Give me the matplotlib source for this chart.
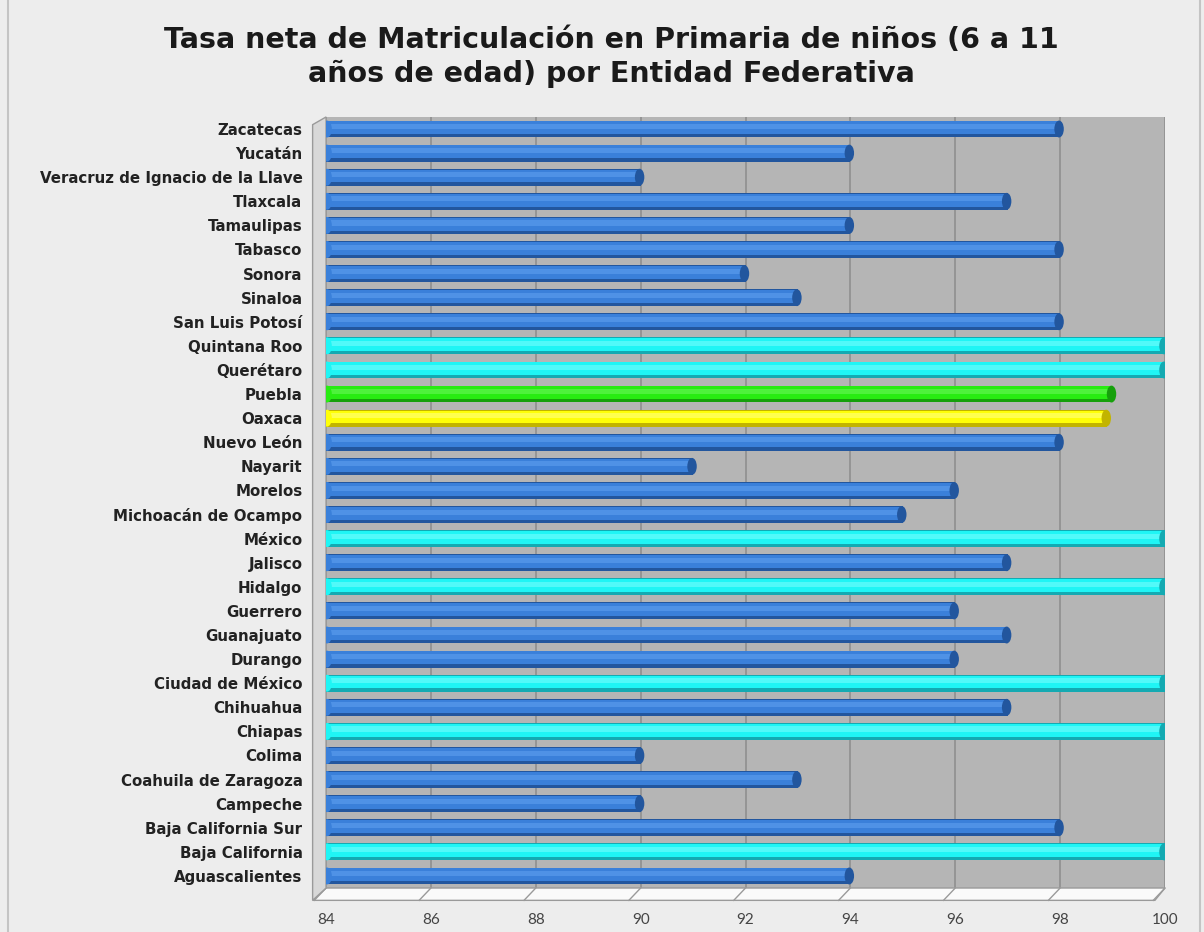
#plot net primary enrolment rate by state, horizontal "cylinder" bars
import matplotlib
matplotlib.use('Agg')
import matplotlib.pyplot as plt
from matplotlib.patches import Ellipse, Polygon, Rectangle

#----------------------------------------------
# data, top to bottom as in the chart
#----------------------------------------------
states = ['Zacatecas', 'Yucatán', 'Veracruz de Ignacio de la Llave', 'Tlaxcala',
          'Tamaulipas', 'Tabasco', 'Sonora', 'Sinaloa', 'San Luis Potosí',
          'Quintana Roo', 'Querétaro', 'Puebla', 'Oaxaca', 'Nuevo León', 'Nayarit',
          'Morelos', 'Michoacán de Ocampo', 'México', 'Jalisco', 'Hidalgo',
          'Guerrero', 'Guanajuato', 'Durango', 'Ciudad de México', 'Chihuahua',
          'Chiapas', 'Colima', 'Coahuila de Zaragoza', 'Campeche',
          'Baja California Sur', 'Baja California', 'Aguascalientes']
rates = [98, 94, 90, 97, 94, 98, 92, 93, 98, 100, 100, 99, 98.9, 98, 91,
         96, 95, 100, 97, 100, 96, 97, 96, 100, 97, 100, 90, 93, 90,
         98, 100, 94]
# colour group per bar: b = blue, c = cyan, g = green, y = yellow
groups = ['b', 'b', 'b', 'b', 'b', 'b', 'b', 'b', 'b', 'c', 'c', 'g', 'y', 'b', 'b',
          'b', 'b', 'c', 'b', 'c', 'b', 'b', 'b', 'c', 'b', 'c', 'b', 'b', 'b',
          'b', 'c', 'b']
xticks = [84, 86, 88, 90, 92, 94, 96, 98, 100]

title = 'Tasa neta de Matriculación en Primaria de niños (6 a 11\naños de edad) por Entidad Federativa'

palette = {
    'b': ('#3a80da', '#22569e', '#4f92e6'),
    'c': ('#1ff5f5', '#14aab2', '#52f9f9'),
    'g': ('#28ec12', '#16a00b', '#4ef23c'),
    'y': ('#ffff08', '#c2b400', '#ffff50'),
}

fig = plt.figure(figsize=(12.04, 9.32), dpi=100)
fig.patch.set_facecolor('#ededed')
fig.patches.append(Rectangle((0.007, -0.01), 0.99, 1.02, transform=fig.transFigure,
                             fill=False, edgecolor='#c4c4c4', linewidth=1.5))

ax = fig.add_axes([0.2708, 0.0472, 0.6968, 0.8273])
ax.set_facecolor('#b5b5b5')

base = xticks[0]
ypos = list(range(len(states)))
bar_h = 0.7
for y, v, g in zip(ypos, rates, groups):
    body, dark, light = palette[g]
    ax.barh(y, v - base, left=base, height=bar_h, color=dark, zorder=3)
    ax.barh(y - 0.05, v - base, left=base, height=bar_h * 0.76, color=body, zorder=4)
    ax.barh(y - 0.1, v - base, left=base, height=bar_h * 0.3, color=light, zorder=5)
    ax.add_patch(Ellipse((v - 0.02, y), 0.18, bar_h, facecolor=dark, edgecolor='none', zorder=6))
    ax.add_patch(Ellipse((base + 0.02, y), 0.18, bar_h, facecolor=body, edgecolor='none', zorder=6))

ax.set_xlim(84, 100)
ax.set_ylim(len(states) - 0.5, -0.5)
ax.set_yticks(ypos)
ax.set_yticklabels(states, fontsize=10.8, fontweight='bold', color='#222222', family='DejaVu Sans')
ax.set_xticks(xticks)
ax.set_xticklabels([str(t) for t in xticks], fontsize=11, color='#444444', family='Lato')
ax.tick_params(axis='y', length=0, pad=17)
ax.tick_params(axis='x', length=0, pad=18)
ax.grid(axis='x', color='#8f8f8f', linewidth=1.2, zorder=1)
ax.set_axisbelow(True)
for s in ax.spines.values():
    s.set_visible(False)

# floor below the wall
floor = Polygon([(0, 0), (1, 0), (0.988, -0.016), (-0.016, -0.016)], closed=True,
                transform=ax.transAxes, facecolor='#fafafa', edgecolor='#9a9a9a',
                linewidth=1, clip_on=False, zorder=2)
ax.add_patch(floor)
for t in xticks:
    fx = (t - 84) / 16.0
    ax.plot([fx, fx - 0.014], [0, -0.016], transform=ax.transAxes, color='#9a9a9a',
            linewidth=1, clip_on=False, zorder=2)
# thin left wall
wall = Polygon([(0, 0), (0, 1), (-0.016, 0.99), (-0.016, -0.016)], closed=True,
               transform=ax.transAxes, facecolor='#d8d8d8', edgecolor='#9a9a9a',
               linewidth=1, clip_on=False, zorder=2)
ax.add_patch(wall)

fig.text(0.508, 0.939, title, ha='center', va='center', fontsize=20.5, fontweight='bold',
         color='#1a1a1a', family='DejaVu Sans', linespacing=1.25)

fig.savefig('out.png', dpi=100, facecolor=fig.get_facecolor())
